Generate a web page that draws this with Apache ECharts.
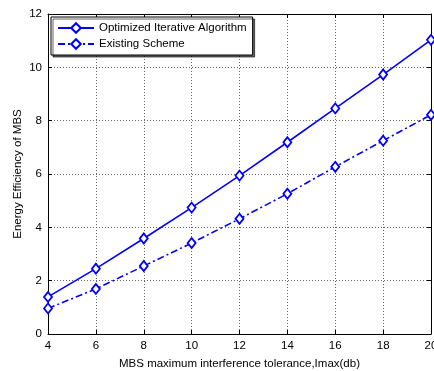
<!DOCTYPE html>
<html><head><meta charset="utf-8">
<script src="https://cdn.jsdelivr.net/npm/echarts@6/dist/echarts.min.js"></script>
<style>html,body{margin:0;padding:0;background:#fff}#c{width:434px;height:371px}</style>
</head><body><div id="c"></div>
<script>
const xValues = [4, 6, 8, 10, 12, 14, 16, 18, 20];
const optimized = [1.39, 2.45, 3.58, 4.74, 5.94, 7.19, 8.46, 9.73, 11.03];
const existing = [0.96, 1.69, 2.55, 3.41, 4.32, 5.26, 6.27, 7.25, 8.22];
const seriesNames = ['Optimized Iterative Algorithm', 'Existing Scheme'];
const xTitle = 'MBS maximum interference tolerance,Imax(db)';
const yTitle = 'Energy Efficiency of MBS';

const font = 'Liberation Sans, Arial, sans-serif';
const chart = echarts.init(document.getElementById('c'), null, {renderer: 'canvas'});
const pairs = a => xValues.map((x, i) => [x, a[i]]);
const axisCommon = {
  axisLine: {show: true, onZero: false, lineStyle: {color: '#000', width: 1}},
  axisTick: {show: true, inside: true, length: 4, lineStyle: {color: '#000'}},
  axisLabel: {color: '#000', fontSize: 11.5, fontFamily: font},
};
chart.setOption({
  animation: false,
  backgroundColor: '#fff',
  grid: {left: 48, right: 3, top: 14, bottom: 37, containLabel: false, outerBoundsMode: 'none'},
  legend: {
    left: 51, top: 17, orient: 'vertical',
    backgroundColor: '#fff', borderColor: '#000', borderWidth: 1,
    padding: [5, 6, 5, 6], itemGap: 4, itemWidth: 36, itemHeight: 12,
    textStyle: {color: '#000', fontSize: 11.5, fontFamily: font},
    shadowColor: 'rgba(0,0,0,0.6)', shadowOffsetX: 2, shadowOffsetY: 2, shadowBlur: 0,
    data: seriesNames
  },
  xAxis: [
    Object.assign({}, axisCommon, {type: 'value', min: 4, max: 20, interval: 2, position: 'bottom',
      name: xTitle, nameLocation: 'middle', nameGap: 24, nameMoveOverlap: false,
      nameTextStyle: {color: '#000', fontSize: 11.5, fontFamily: font},
      axisLabel: Object.assign({}, axisCommon.axisLabel, {margin: 6}),
      splitLine: {show: true, lineStyle: {color: '#666', type: [1, 2], width: 1}}}),
    Object.assign({}, axisCommon, {type: 'value', min: 4, max: 20, interval: 2, position: 'top',
      axisLabel: {show: false}, splitLine: {show: false}})
  ],
  yAxis: [
    Object.assign({}, axisCommon, {type: 'value', min: 0, max: 12, interval: 2, position: 'left',
      name: yTitle, nameLocation: 'middle', nameGap: 24, nameRotate: 90, nameMoveOverlap: false,
      nameTextStyle: {color: '#000', fontSize: 11.5, fontFamily: font},
      axisLabel: Object.assign({}, axisCommon.axisLabel, {margin: 6}),
      splitLine: {show: true, lineStyle: {color: '#666', type: [1, 2], width: 1}}}),
    Object.assign({}, axisCommon, {type: 'value', min: 0, max: 12, interval: 2, position: 'right',
      axisLabel: {show: false}, splitLine: {show: false}})
  ],
  series: [
    {name: seriesNames[0], type: 'line', data: pairs(optimized), symbol: 'diamond', symbolSize: [8, 10],
      lineStyle: {color: '#0000ff', width: 1.6}, itemStyle: {color: '#fff', borderColor: '#0000ff', borderWidth: 1.8},
      color: '#0000ff'},
    {name: seriesNames[1], type: 'line', data: pairs(existing), symbol: 'diamond', symbolSize: [8, 10],
      lineStyle: {color: '#0000ff', width: 1.6, type: [7, 3, 2, 3]}, itemStyle: {color: '#fff', borderColor: '#0000ff', borderWidth: 1.8},
      color: '#0000ff'}
  ]
});
</script></body></html>
